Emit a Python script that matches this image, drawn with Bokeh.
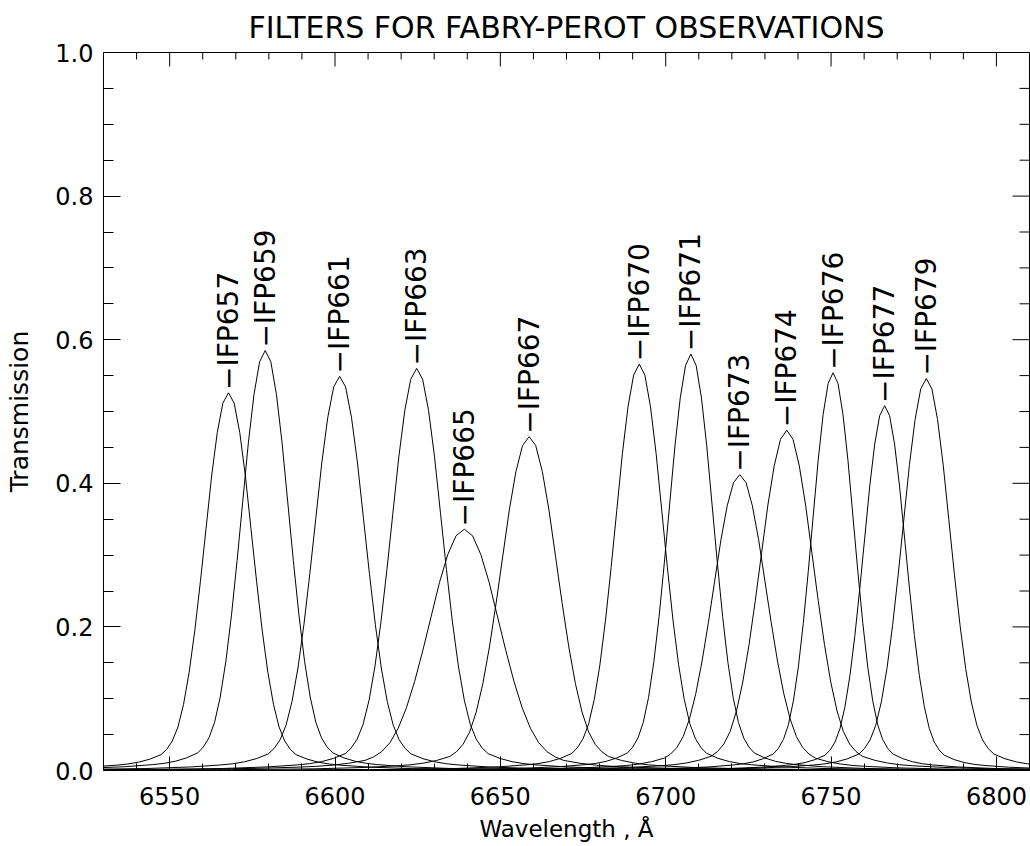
import numpy as np
from bokeh.plotting import figure
from bokeh.models import Range1d, FixedTicker, ColumnDataSource, PrintfTickFormatter
from bokeh.core.properties import value
from bokeh.embed import file_html
from bokeh.resources import INLINE

# ---- data ----
filters = ["IFP657", "IFP659", "IFP661", "IFP663", "IFP665", "IFP667", "IFP670",
           "IFP671", "IFP673", "IFP674", "IFP676", "IFP677", "IFP679"]
centers = [6567.8, 6578.9, 6601.4, 6624.7, 6639.1, 6658.7, 6692.0,
           6707.6, 6722.4, 6736.6, 6750.6, 6766.2, 6778.8]
peaks = [0.526, 0.585, 0.549, 0.560, 0.336, 0.465, 0.566,
         0.580, 0.412, 0.474, 0.554, 0.508, 0.546]
fwhm = [17.0, 17.0, 18.0, 18.0, 25.0, 20.0, 17.0,
        16.0, 19.0, 19.0, 15.0, 15.0, 17.0]
# shared filter profile: offset from centre in half-widths, relative transmission
profile_u = [0.0, 0.2, 0.4, 0.6, 0.8, 1.0, 1.2, 1.4, 1.6, 1.8, 2.0, 2.2, 2.4,
             2.8, 3.2, 3.6, 4.0, 5.0, 6.5, 9.0, 14.0]
profile_rel = [1.0, 0.973, 0.895, 0.78, 0.64, 0.5, 0.37, 0.26, 0.175, 0.115,
               0.078, 0.056, 0.042, 0.030, 0.022, 0.017, 0.014, 0.009, 0.005,
               0.0025, 0.001]

x_ticks = [6550, 6600, 6650, 6700, 6750, 6800]
x_minor = [6540, 6560, 6570, 6580, 6590, 6610, 6620, 6630, 6640, 6660, 6670, 6680,
           6690, 6710, 6720, 6730, 6740, 6760, 6770, 6780, 6790]
y_ticks = [0.0, 0.2, 0.4, 0.6, 0.8, 1.0]
y_minor = [0.05, 0.1, 0.15, 0.25, 0.3, 0.35, 0.45, 0.5, 0.55, 0.65, 0.7, 0.75,
           0.85, 0.9, 0.95]

X0, X1, Y0, Y1 = 6530.0, 6810.0, 0.0, 1.0
FONT = "DejaVu Sans"
W, H = 1030, 844
BL, BR, BT, BB = 103, 1, 52, 73
FW, FH = W - BL - BR, H - BT - BB

p = figure(width=W, height=H, output_backend="svg", toolbar_location=None,
           x_range=Range1d(X0, X1), y_range=Range1d(Y0, Y1),
           title="FILTERS FOR FABRY-PEROT OBSERVATIONS",
           min_border_left=BL, min_border_right=BR, min_border_top=BT, min_border_bottom=BB)
p.title.align = "center"
p.title.text_font = FONT
p.title.text_font_size = "30px"
p.title.text_font_style = "normal"
p.title.text_color = "black"
p.title.standoff = 15
p.grid.visible = False
p.outline_line_color = "black"
p.outline_line_width = 1
p.background_fill_color = "white"
p.border_fill_color = "white"

u = np.array(profile_u)
r = np.array(profile_rel)
u_full = np.concatenate([-u[::-1], u[1:]])
r_full = np.concatenate([r[::-1], r[1:]])

for name, c, pk, w in zip(filters, centers, peaks, fwhm):
    xs = c + u_full * w / 2.0
    ys = pk * r_full
    p.line(xs, ys, line_color="black", line_width=1)

lab = ColumnDataSource(dict(x=centers, y=[v + 0.004 for v in peaks],
                            t=["\u2212" + f for f in filters]))
p.text(x="x", y="y", text="t", source=lab, angle=np.pi / 2,
       text_font=value(FONT), text_font_size="28px", text_align="left",
       text_baseline="alphabetic", text_color="black")

# ---- axes (left / bottom) ----
def style(ax, size):
    ax.axis_line_color = None
    ax.major_tick_out = 0
    ax.minor_tick_out = 0
    ax.major_tick_line_color = "black"
    ax.minor_tick_line_color = "black"
    ax.major_label_text_font = FONT
    ax.major_label_text_font_size = "24px"
    ax.major_label_text_color = "black"
    ax.axis_label_text_font = FONT
    ax.axis_label_text_font_size = size
    ax.axis_label_text_font_style = "normal"
    ax.axis_label_text_color = "black"

xa = p.xaxis[0]
xa.ticker = FixedTicker(ticks=x_ticks, minor_ticks=x_minor)
xa.axis_label = "Wavelength , \u00c5"
style(xa, "23px")
xa.major_tick_in = 14
xa.minor_tick_in = 7
xa.major_label_standoff = 16
xa.axis_label_standoff = 8

ya = p.yaxis[0]
ya.ticker = FixedTicker(ticks=y_ticks, minor_ticks=y_minor)
ya.formatter = PrintfTickFormatter(format="%.1f")
ya.axis_label = "Transmission"
style(ya, "25px")
ya.major_tick_in = 17
ya.minor_tick_in = 10
ya.major_label_standoff = 10
ya.axis_label_standoff = 18

# ---- mirrored ticks on the top and right edges of the box ----
sx = (X1 - X0) / FW   # data units per pixel
sy = (Y1 - Y0) / FH
p.segment(x0=x_ticks, x1=x_ticks, y0=[Y1] * len(x_ticks),
          y1=[Y1 - 14 * sy] * len(x_ticks), line_color="black", line_width=1)
p.segment(x0=x_minor, x1=x_minor, y0=[Y1] * len(x_minor),
          y1=[Y1 - 7 * sy] * len(x_minor), line_color="black", line_width=1)
p.segment(x0=[X1] * len(y_ticks), x1=[X1 - 17 * sx] * len(y_ticks),
          y0=y_ticks, y1=y_ticks, line_color="black", line_width=1)
p.segment(x0=[X1] * len(y_minor), x1=[X1 - 10 * sx] * len(y_minor),
          y0=y_minor, y1=y_minor, line_color="black", line_width=1)

open("out.html", "w").write(file_html(p, INLINE))
